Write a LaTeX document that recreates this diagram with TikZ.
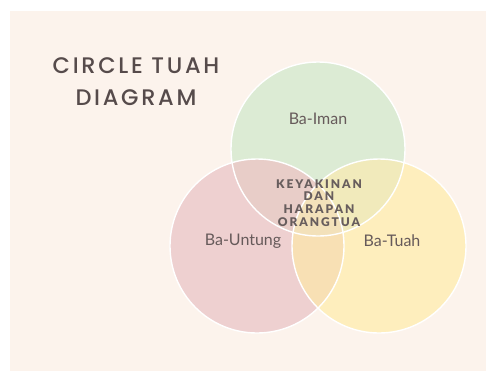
\documentclass[tikz,border=0pt]{standalone}
\usepackage{fontspec}
\setmainfont{Lato}
\newfontfamily\titlefont[LetterSpace=12]{Poppins Medium}
\newfontfamily\labelfont{Lato}
\newfontfamily\centerfont[LetterSpace=16]{Lato Black}
\definecolor{bgcream}{HTML}{FCF3EC}
\definecolor{cgreen}{HTML}{DCEBD4}
\definecolor{cpink}{HTML}{EED0D0}
\definecolor{cyellow}{HTML}{FEEEBD}
\definecolor{cpg}{HTML}{E8CDC8}
\definecolor{cgy}{HTML}{F1EABB}
\definecolor{cpy}{HTML}{F8E0B4}
\definecolor{cmid}{HTML}{F3E1BA}
\definecolor{txtdark}{HTML}{564B4B}
\definecolor{txtlabel}{HTML}{665A5A}
\tikzset{
  ring/.style={draw=white, line width=1.4pt},
  lbl/.style={text=txtlabel, font=\labelfont\fontsize{16}{18}\selectfont},
  ttl/.style={text=txtdark, font=\titlefont\fontsize{22.5}{32}\selectfont, align=center},
  ctr/.style={text=txtdark!90, font=\centerfont\fontsize{12}{12.8}\selectfont, align=center}
}
\begin{document}
\begin{tikzpicture}[x=1pt,y=-1pt]
\useasboundingbox (0,0) rectangle (486,381);
\fill[white] (0,0) rectangle (486,381);
\fill[bgcream] (10,11) rectangle (486,371);
% circles
\def\R{87}
\coordinate (G) at (318,149);
\coordinate (P) at (257,246);
\coordinate (Y) at (379,246);
\fill[cgreen] (G) circle (\R);
\fill[cpink] (P) circle (\R);
\fill[cyellow] (Y) circle (\R);
\begin{scope}
  \clip (G) circle (\R);
  \fill[cgy] (Y) circle (\R);
\end{scope}
\begin{scope}
  \clip (P) circle (\R);
  \fill[cpg] (G) circle (\R);
  \fill[cpy] (Y) circle (\R);
  \clip (G) circle (\R);
  \fill[cmid] (Y) circle (\R);
\end{scope}
\draw[ring] (G) circle (\R);
\draw[ring] (P) circle (\R);
\draw[ring] (Y) circle (\R);
% texts
\node[ttl] (title) at (136,81.5) {CIRCLE TUAH\\DIAGRAM};
\node[lbl] (iman) at (318,119) {Ba-Iman};
\node[lbl] (untung) at (243,241) {Ba-Untung};
\node[lbl] (tuah) at (392,241) {Ba-Tuah};
\node[ctr] (mid) at (319,203) {KEYAKINAN\\DAN\\HARAPAN\\ORANGTUA};
\end{tikzpicture}
\end{document}
